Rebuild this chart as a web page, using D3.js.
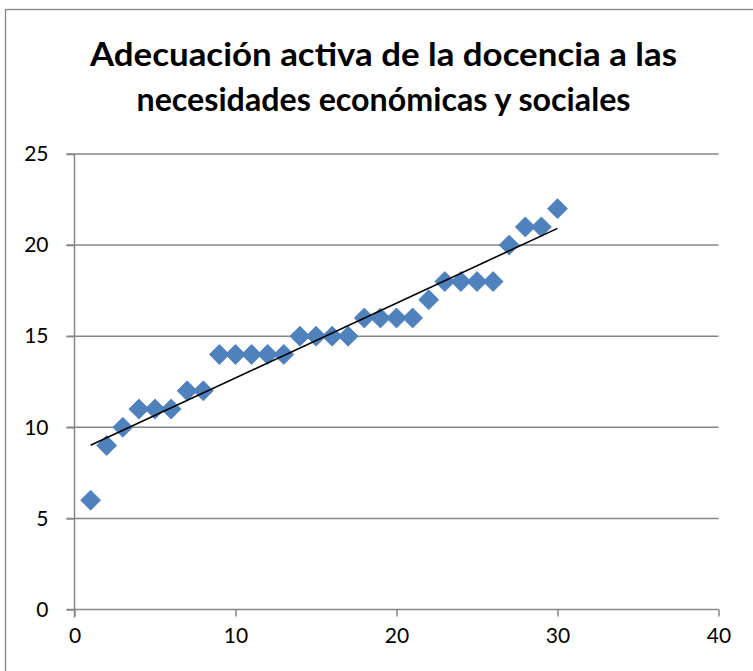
<!DOCTYPE html>
<html><head><meta charset="utf-8">
<script src="https://cdn.jsdelivr.net/npm/d3@7"></script>
<style>body{margin:0;background:#fff}svg{display:block}</style>
</head><body>
<script>
const titleLines = ["Adecuación activa de la docencia a las", "necesidades económicas y sociales"];
const xValues = [1,2,3,4,5,6,7,8,9,10,11,12,13,14,15,16,17,18,19,20,21,22,23,24,25,26,27,28,29,30];
const yValues = [6,9,10,11,11,11,12,12,14,14,14,14,14,15,15,15,15,16,16,16,16,17,18,18,18,18,20,21,21,22];
const xTicks = [0,10,20,30,40];
const yTicks = [0,5,10,15,20,25];

const W = 753, H = 671;
const svg = d3.select("body").append("svg").attr("width", W).attr("height", H);
svg.append("rect").attr("x",5.5).attr("y",9.5).attr("width",W+20).attr("height",H+20)
  .attr("fill","#fff").attr("stroke","#868686").attr("stroke-width",1.3);

const x = d3.scaleLinear().domain([0,40]).range([74.5,718.5]);
const y = d3.scaleLinear().domain([0,25]).range([609.5,154]);
const font = "Lato, 'Open Sans', sans-serif";

// title
const titleWidths = [587, 494];
const t = svg.append("g");
titleLines.forEach((s,i)=>{
  t.append("text").attr("x",383.5).attr("y",66+i*45).attr("text-anchor","middle")
   .attr("font-family",font).attr("font-weight","bold").attr("font-size",32).attr("fill","#000")
   .attr("textLength",titleWidths[i]).attr("lengthAdjust","spacingAndGlyphs").text(s);
});

// gridlines
svg.append("g").selectAll("line").data(yTicks.filter(d=>d>0)).join("line")
  .attr("x1",x(0)-8).attr("x2",x(40)).attr("y1",d=>y(d)).attr("y2",d=>y(d))
  .attr("stroke","#868686").attr("stroke-width",1.5);

// y axis
const ya = svg.append("g").attr("transform",`translate(${x(0)},0)`)
  .call(d3.axisLeft(y).tickValues(yTicks).tickSize(8).tickPadding(18).tickFormat(d3.format("d")));
// x axis
const xa = svg.append("g").attr("transform",`translate(0,${y(0)})`)
  .call(d3.axisBottom(x).tickValues(xTicks).tickSize(7).tickPadding(12).tickFormat(d3.format("d")));
[ya,xa].forEach(a=>{
  a.select(".domain").attr("stroke","#868686").attr("stroke-width",1.5);
  a.selectAll(".tick line").attr("stroke","#868686").attr("stroke-width",1.5);
  a.selectAll("text").attr("font-family",font).attr("font-size",21).attr("fill","#000");
});
ya.select(".domain").attr("d",`M0,${y(0)+8}V${y(25)}`);
xa.select(".domain").attr("d",`M${x(0)-8},0H${x(40)}`);

// trend line (least squares)
const n = xValues.length;
const mx = d3.mean(xValues), my = d3.mean(yValues);
let sxy=0, sxx=0;
for(let i=0;i<n;i++){ sxy+=(xValues[i]-mx)*(yValues[i]-my); sxx+=(xValues[i]-mx)**2; }
const b = sxy/sxx, a0 = my - b*mx;
const x0 = d3.min(xValues), x1 = d3.max(xValues);

// points
const pts = xValues.map((d,i)=>({x:d,y:yValues[i]}));
svg.append("g").selectAll("path").data(pts).join("path")
  .attr("transform",d=>`translate(${x(d.x)},${y(d.y)})`)
  .attr("d","M0,-10L10,0L0,10L-10,0Z")
  .attr("fill","#4F81BD").attr("stroke","#4A7EBB").attr("stroke-width",0.8);

svg.append("line").attr("x1",x(x0)).attr("y1",y(a0+b*x0)).attr("x2",x(x1)).attr("y2",y(a0+b*x1))
  .attr("stroke","#000").attr("stroke-width",1.6);
</script>
</body></html>
